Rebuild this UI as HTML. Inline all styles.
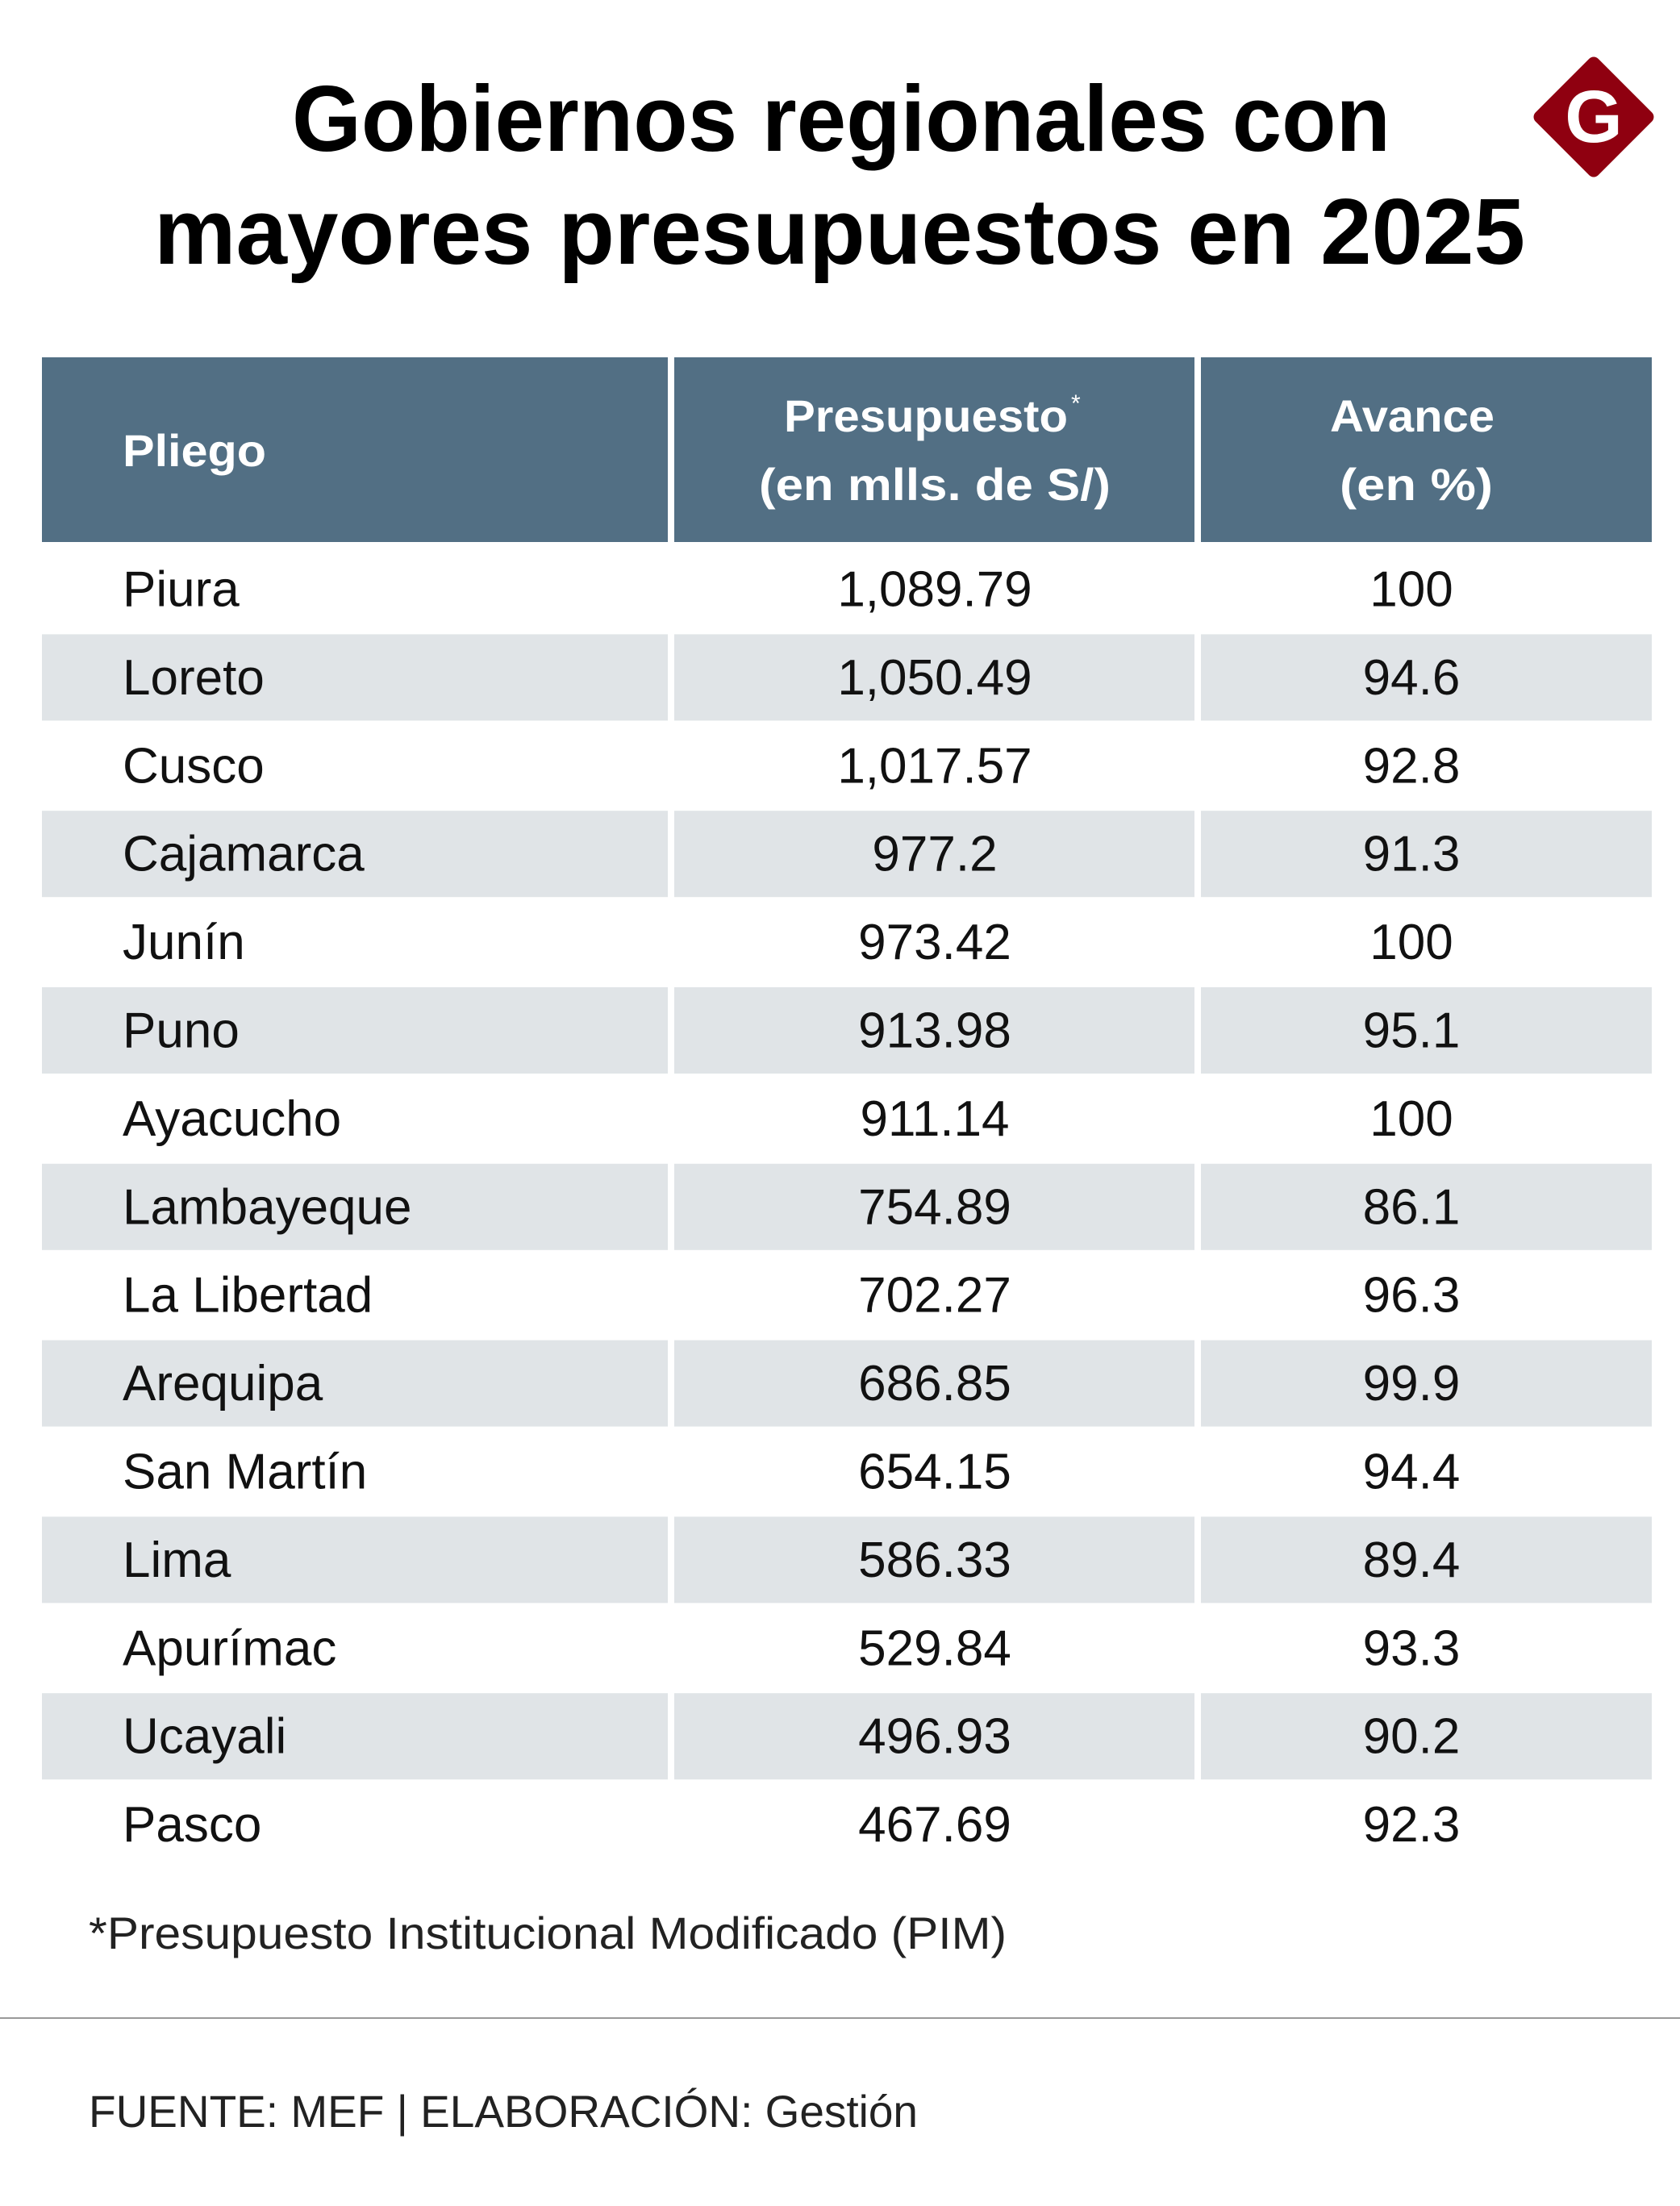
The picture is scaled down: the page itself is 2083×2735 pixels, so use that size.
<!DOCTYPE html>
<html><head><meta charset="utf-8">
<style>
html,body{margin:0;padding:0;background:#fff;}
svg{display:block;}
text{font-family:"Liberation Sans",sans-serif;}
</style></head>
<body>
<svg id="chart" width="2083" height="2735" viewBox="0 0 2083 2735" xmlns="http://www.w3.org/2000/svg">
  <rect width="2083" height="2735" fill="#ffffff"/>
  <text x="1043" y="187" text-anchor="middle" font-size="116" font-weight="bold" fill="#000" textLength="1362" lengthAdjust="spacingAndGlyphs">Gobiernos regionales con</text>
  <text x="1041" y="327" text-anchor="middle" font-size="116" font-weight="bold" fill="#000" textLength="1700" lengthAdjust="spacingAndGlyphs">mayores presupuestos en 2025</text>
  <g>
    <rect x="1921" y="90" width="110" height="110" rx="8" fill="#8f0010" transform="rotate(45 1976 145)"/>
    <text x="1976" y="176" text-anchor="middle" font-family="Liberation Serif, serif" font-size="92" font-weight="bold" fill="#fff">G</text>
  </g>
  <g>
    <rect x="52" y="443" width="776" height="229" fill="#526f84"/>
    <rect x="836" y="443" width="645" height="229" fill="#526f84"/>
    <rect x="1489" y="443" width="559" height="229" fill="#526f84"/>
    <text x="152" y="578" font-size="56" font-weight="bold" fill="#fff" textLength="178" lengthAdjust="spacingAndGlyphs">Pliego</text>
    <text x="1148" y="535" text-anchor="middle" font-size="56" font-weight="bold" fill="#fff" textLength="352" lengthAdjust="spacingAndGlyphs">Presupuesto</text>
    <text x="1328" y="510" font-size="30" fill="#fff">*</text>
    <text x="1159" y="620" text-anchor="middle" font-size="56" font-weight="bold" fill="#fff" textLength="436" lengthAdjust="spacingAndGlyphs">(en mlls. de S/)</text>
    <text x="1751" y="535" text-anchor="middle" font-size="56" font-weight="bold" fill="#fff" textLength="204" lengthAdjust="spacingAndGlyphs">Avance</text>
    <text x="1756" y="620" text-anchor="middle" font-size="56" font-weight="bold" fill="#fff" textLength="190" lengthAdjust="spacingAndGlyphs">(en %)</text>
  </g>
  <g id="rows"></g>
  <text x="110" y="2416" font-size="56" fill="#222" textLength="1138" lengthAdjust="spacingAndGlyphs">*Presupuesto Institucional Modificado (PIM)</text>
  <rect x="0" y="2501" width="2083" height="2" fill="#999"/>
  <text x="110" y="2637" font-size="56" fill="#222" textLength="1028" lengthAdjust="spacingAndGlyphs">FUENTE: MEF | ELABORACIÓN: Gestión</text>
</svg>
<script>
const regions = ["Piura","Loreto","Cusco","Cajamarca","Junín","Puno","Ayacucho","Lambayeque","La Libertad","Arequipa","San Martín","Lima","Apurímac","Ucayali","Pasco"];
const budgets = ["1,089.79","1,050.49","1,017.57","977.2","973.42","913.98","911.14","754.89","702.27","686.85","654.15","586.33","529.84","496.93","467.69"];
const progress = ["100","94.6","92.8","91.3","100","95.1","100","86.1","96.3","99.9","94.4","89.4","93.3","90.2","92.3"];

const NS = "http://www.w3.org/2000/svg";
const g = document.getElementById("rows");
const top0 = 676, pitch = 109.4, bandH = 107;
const cols = [[52,776],[836,645],[1489,559]];
function mk(tag, attrs){const e=document.createElementNS(NS,tag);for(const k in attrs)e.setAttribute(k,attrs[k]);return e;}
regions.forEach((r,i)=>{
  const y = top0 + pitch*i;
  const row = mk("g",{});
  
  
  if (i%2===1){
    cols.forEach(c=>{row.appendChild(mk("rect",{x:c[0],y:y+1,width:c[1],height:bandH,fill:"#e0e4e7"}));});
  }
  const cy = y + bandH/2 + 22;
  const t1 = mk("text",{x:152,y:cy,"font-size":62,fill:"#111"});
  
  
  t1.textContent = r;
  const t2 = mk("text",{x:1159,y:cy,"font-size":62,fill:"#111","text-anchor":"middle"});
  
  
  t2.textContent = budgets[i];
  const t3 = mk("text",{x:1750,y:cy,"font-size":62,fill:"#111","text-anchor":"middle"});
  
  
  t3.textContent = progress[i];
  row.appendChild(t1);row.appendChild(t2);row.appendChild(t3);
  g.appendChild(row);
});
</script>
</body></html>
